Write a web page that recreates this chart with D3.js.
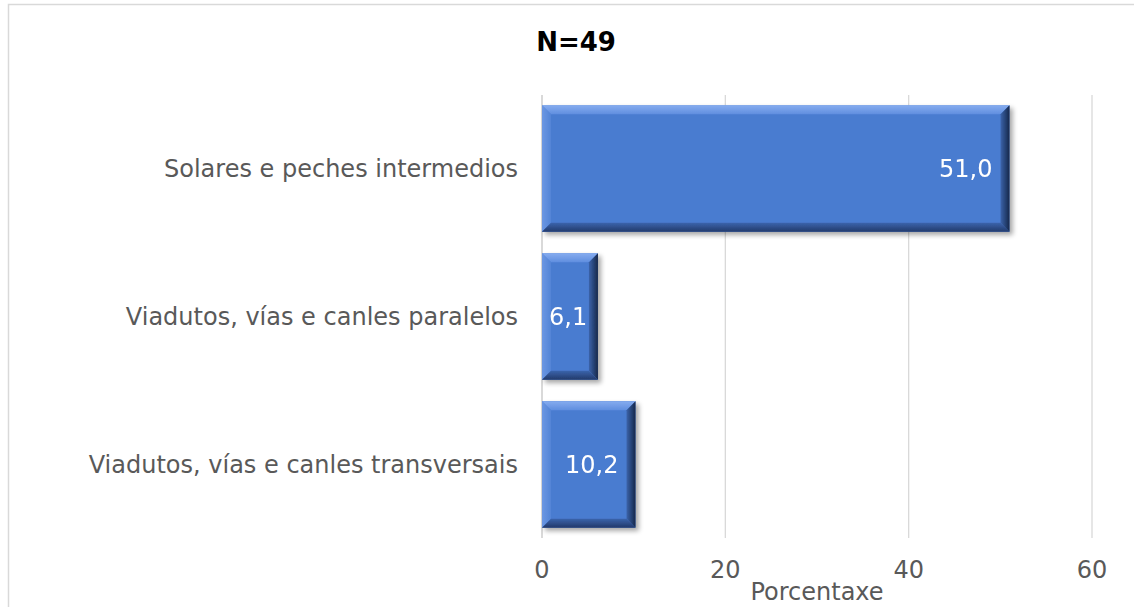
<!DOCTYPE html>
<html lang="gl">
<head>
    <meta charset="UTF-8">
    <title>N=49</title>
    <script src="https://d3js.org/d3.v7.min.js"></script>
    <style>
        body { margin: 0; background: #fff; overflow: hidden; }
        text { font-family: "DejaVu Sans", Verdana, sans-serif; }
    </style>
</head>
<body>
<script>
    // data
    var categories = ["Solares e peches intermedios", "Viadutos, vías e canles paralelos", "Viadutos, vías e canles transversais"];
    var values = [51.0, 6.1, 10.2];
    var xTicks = [0, 20, 40, 60];

    var width = 1134, height = 607;
    var margin = {left: 542, right: 42, top: 95, bottom: 69};

    var svg = d3.select("body").append("svg")
        .attr("width", width)
        .attr("height", height);

    // frame
    svg.append("rect")
        .attr("x", 8.5).attr("y", 4.5)
        .attr("width", width + 10).attr("height", height + 10)
        .attr("fill", "none")
        .attr("stroke", "#d9d9d9")
        .attr("stroke-width", 1.5);

    var x = d3.scaleLinear().domain([0, 60]).range([margin.left, width - margin.right]);
    var y = d3.scaleBand().domain(categories)
        .range([margin.top, height - margin.bottom])
        .paddingInner(0.145).paddingOuter(0.07);

    // gridlines
    svg.append("g").selectAll("line")
        .data(xTicks)
        .enter().append("line")
        .attr("x1", d => x(d)).attr("x2", d => x(d))
        .attr("y1", margin.top).attr("y2", height - margin.bottom)
        .attr("stroke", "#d9d9d9")
        .attr("stroke-width", d => d === 0 ? 2 : 1.3);

    var defs = svg.append("defs");
    // shadow filter
    var f = defs.append("filter").attr("id", "shadow")
        .attr("x", "-10%").attr("y", "-10%").attr("width", "130%").attr("height", "130%");
    f.append("feGaussianBlur").attr("in", "SourceAlpha").attr("stdDeviation", 2.5);
    f.append("feOffset").attr("dx", 3).attr("dy", 3).attr("result", "b");
    f.append("feComponentTransfer").append("feFuncA").attr("type", "linear").attr("slope", 0.35);
    var m = f.append("feMerge");
    m.append("feMergeNode");
    m.append("feMergeNode").attr("in", "SourceGraphic");

    // bevel gradients (outer colour -> inner colour)
    function grad(id, x1, y1, x2, y2, c0, c1) {
        var g = defs.append("linearGradient").attr("id", id)
            .attr("x1", x1).attr("y1", y1).attr("x2", x2).attr("y2", y2);
        g.append("stop").attr("offset", "0%").attr("stop-color", c0);
        g.append("stop").attr("offset", "100%").attr("stop-color", c1);
    }
    grad("bTop", 0, 0, 0, 1, "#86acef", "#5f8edf");
    grad("bLeft", 0, 0, 1, 0, "#6b97e3", "#5384d6");
    grad("bBottom", 0, 1, 0, 0, "#22396a", "#3b64ac");
    grad("bRight", 1, 0, 0, 0, "#16284a", "#3b63aa");

    var bev = 9;
    var bars = svg.append("g").selectAll("g")
        .data(categories.map((c, i) => ({cat: c, v: values[i]})))
        .enter().append("g")
        .attr("filter", "url(#shadow)");

    bars.each(function(d) {
        var g = d3.select(this);
        var x0 = x(0), x1 = x(d.v), y0 = y(d.cat), y1 = y0 + y.bandwidth();
        g.append("rect")
            .attr("x", x0).attr("y", y0)
            .attr("width", x1 - x0).attr("height", y1 - y0)
            .attr("fill", "#4a7bd0");
        g.append("polygon")
            .attr("points", [[x0, y0], [x1, y0], [x1 - bev, y0 + bev], [x0 + bev, y0 + bev]].join(" "))
            .attr("fill", "url(#bTop)");
        g.append("polygon")
            .attr("points", [[x0, y0], [x0 + bev, y0 + bev], [x0 + bev, y1 - bev], [x0, y1]].join(" "))
            .attr("fill", "url(#bLeft)");
        g.append("polygon")
            .attr("points", [[x0, y1], [x0 + bev, y1 - bev], [x1 - bev, y1 - bev], [x1, y1]].join(" "))
            .attr("fill", "url(#bBottom)");
        g.append("polygon")
            .attr("points", [[x1, y0], [x1 - bev, y0 + bev], [x1 - bev, y1 - bev], [x1, y1]].join(" "))
            .attr("fill", "url(#bRight)");
        // value label, inside end
        var t = g.append("text")
            .attr("y", (y0 + y1) / 2)
            .attr("dy", "0.35em")
            .attr("fill", "#fff")
            .attr("font-size", "24px")
            .text(d3.format(".1f")(d.v).replace(".", ","));
        var w = t.node().getComputedTextLength();
        t.attr("x", Math.max(x0 + 7, x1 - 17 - w));
    });

    // category labels
    svg.append("g").selectAll("text")
        .data(categories)
        .enter().append("text")
        .attr("x", margin.left - 24)
        .attr("y", d => y(d) + y.bandwidth() / 2)
        .attr("dy", "0.35em")
        .attr("text-anchor", "end")
        .attr("fill", "#595959")
        .attr("font-size", "24px")
        .text(d => d);

    // x tick labels
    svg.append("g").selectAll("text")
        .data(xTicks)
        .enter().append("text")
        .attr("x", d => x(d))
        .attr("y", 578)
        .attr("text-anchor", "middle")
        .attr("fill", "#595959")
        .attr("font-size", "24px")
        .text(d => d);

    // axis title
    svg.append("text")
        .attr("x", (x(0) + x(60)) / 2).attr("y", 600)
        .attr("text-anchor", "middle")
        .attr("fill", "#595959")
        .attr("font-size", "24px")
        .text("Porcentaxe");

    // title
    svg.append("text")
        .attr("x", 576).attr("y", 51)
        .attr("text-anchor", "middle")
        .attr("fill", "#000")
        .attr("font-size", "26px")
        .attr("font-weight", "bold")
        .text("N=49");
</script>
</body>
</html>
